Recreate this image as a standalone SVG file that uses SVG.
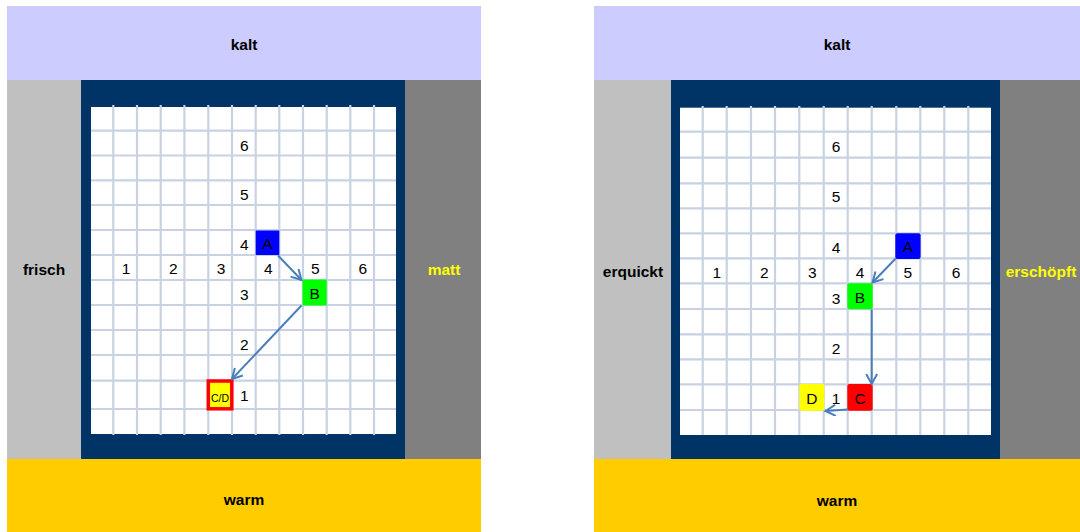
<svg xmlns="http://www.w3.org/2000/svg" width="1080" height="532" viewBox="0 0 1080 532">
<style>
.band{font-family:"Liberation Sans",Arial,sans-serif;font-weight:bold;font-size:15.5px;text-anchor:middle;dominant-baseline:central}
.num{font-family:"Liberation Sans",Arial,sans-serif;font-size:15.5px;fill:#000;text-anchor:middle;dominant-baseline:central}
.grid line{stroke:#C9D2E3;stroke-width:2.2}
.conn{stroke:#4A7EBB;stroke-width:2;fill:none;marker-end:url(#arr)}
</style>
<defs>
<marker id="arr" markerUnits="userSpaceOnUse" markerWidth="14" markerHeight="14" refX="11" refY="6" orient="auto">
<path d="M1,0.5 L11,6 L1,11.5" fill="none" stroke="#4A7EBB" stroke-width="2"/>
</marker>
</defs>
<rect width="1080" height="532" fill="#fff"/>

<!-- LEFT PANEL -->
<g id="left-panel">
<rect x="7" y="6" width="474" height="74" fill="#CCCCFF"/>
<rect x="7" y="80" width="74" height="379" fill="#C0C0C0"/>
<rect x="405" y="80" width="76" height="379" fill="#808080"/>
<rect x="7" y="459" width="474" height="73" fill="#FFCC00"/>
<rect x="81" y="80" width="324" height="379" fill="#003366"/>
<rect x="91" y="107" width="305" height="327" fill="#fff"/>
<text class="band" x="244" y="44" fill="#000">kalt</text>
<text class="band" x="244" y="499" fill="#000">warm</text>
<text class="band" x="44" y="269" fill="#000">frisch</text>
<text class="band" x="444" y="269" fill="#FFFF00">matt</text>
<g class="grid">
<line x1="113.3" y1="105" x2="113.3" y2="435"/>
<line x1="137" y1="105" x2="137" y2="435"/>
<line x1="160.7" y1="105" x2="160.7" y2="435"/>
<line x1="184.4" y1="105" x2="184.4" y2="435"/>
<line x1="208.3" y1="105" x2="208.3" y2="435"/>
<line x1="232" y1="105" x2="232" y2="435"/>
<line x1="255.7" y1="105" x2="255.7" y2="435"/>
<line x1="279.3" y1="105" x2="279.3" y2="435"/>
<line x1="303" y1="105" x2="303" y2="435"/>
<line x1="326.7" y1="105" x2="326.7" y2="435"/>
<line x1="350.3" y1="105" x2="350.3" y2="435"/>
<line x1="374" y1="105" x2="374" y2="435"/>
<line x1="91" y1="130.7" x2="396" y2="130.7"/>
<line x1="91" y1="155.5" x2="396" y2="155.5"/>
<line x1="91" y1="180.3" x2="396" y2="180.3"/>
<line x1="91" y1="205" x2="396" y2="205"/>
<line x1="91" y1="230" x2="396" y2="230"/>
<line x1="91" y1="255" x2="396" y2="255"/>
<line x1="91" y1="280" x2="396" y2="280"/>
<line x1="91" y1="305" x2="396" y2="305"/>
<line x1="91" y1="330" x2="396" y2="330"/>
<line x1="91" y1="355" x2="396" y2="355"/>
<line x1="91" y1="380.7" x2="396" y2="380.7"/>
<line x1="91" y1="409" x2="396" y2="409"/>
</g>
<text class="num" x="126" y="268">1</text>
<text class="num" x="173.3" y="268">2</text>
<text class="num" x="221" y="268">3</text>
<text class="num" x="268.3" y="268">4</text>
<text class="num" x="315.3" y="268">5</text>
<text class="num" x="362.7" y="268">6</text>
<text class="num" x="244.3" y="145">6</text>
<text class="num" x="244.3" y="194.5">5</text>
<text class="num" x="244.3" y="244">4</text>
<text class="num" x="244.3" y="294">3</text>
<text class="num" x="244.3" y="344">2</text>
<text class="num" x="244.3" y="395.5">1</text>
</g>

<g id="L-A">
<rect x="255.7" y="230.5" width="23.6" height="24.5" fill="#0000FF"/>
<text class="num" x="267.5" y="243">A</text>
</g>
<g id="L-B">
<rect x="302.5" y="279.5" width="24.2" height="26" fill="#00FF00"/>
<text class="num" x="314.6" y="293">B</text>
</g>
<g id="L-CD">
<rect x="208.3" y="381" width="23.5" height="27.8" fill="#FFFF00" stroke="#FF0000" stroke-width="3.5"/>
<text class="num" x="220" y="398" style="font-size:10.5px">C/D</text>
</g>

<!-- RIGHT PANEL -->
<g id="right-panel">
<rect x="594" y="6" width="486" height="74" fill="#CCCCFF"/>
<rect x="594" y="80" width="77" height="379" fill="#C0C0C0"/>
<rect x="1000" y="80" width="80" height="379" fill="#808080"/>
<rect x="594" y="459" width="486" height="73" fill="#FFCC00"/>
<rect x="671" y="80" width="329" height="379" fill="#003366"/>
<rect x="680" y="107.7" width="311" height="327.3" fill="#fff"/>
<text class="band" x="837" y="44" fill="#000">kalt</text>
<text class="band" x="837" y="500" fill="#000">warm</text>
<text class="band" x="633" y="271" fill="#000">erquickt</text>
<text class="band" x="1041" y="271" fill="#FFFF00">erschöpft</text>
<g class="grid">
<line x1="702.7" y1="106" x2="702.7" y2="435"/>
<line x1="726.7" y1="106" x2="726.7" y2="435"/>
<line x1="751" y1="106" x2="751" y2="435"/>
<line x1="775" y1="106" x2="775" y2="435"/>
<line x1="799.3" y1="106" x2="799.3" y2="435"/>
<line x1="823.7" y1="106" x2="823.7" y2="435"/>
<line x1="847.7" y1="106" x2="847.7" y2="435"/>
<line x1="871.7" y1="106" x2="871.7" y2="435"/>
<line x1="896.3" y1="106" x2="896.3" y2="435"/>
<line x1="920.3" y1="106" x2="920.3" y2="435"/>
<line x1="944.3" y1="106" x2="944.3" y2="435"/>
<line x1="968.3" y1="106" x2="968.3" y2="435"/>
<line x1="680" y1="131.7" x2="991" y2="131.7"/>
<line x1="680" y1="157.7" x2="991" y2="157.7"/>
<line x1="680" y1="183.3" x2="991" y2="183.3"/>
<line x1="680" y1="208.3" x2="991" y2="208.3"/>
<line x1="680" y1="233.3" x2="991" y2="233.3"/>
<line x1="680" y1="258.3" x2="991" y2="258.3"/>
<line x1="680" y1="283.3" x2="991" y2="283.3"/>
<line x1="680" y1="309" x2="991" y2="309"/>
<line x1="680" y1="334.3" x2="991" y2="334.3"/>
<line x1="680" y1="359.3" x2="991" y2="359.3"/>
<line x1="680" y1="384.3" x2="991" y2="384.3"/>
<line x1="680" y1="410" x2="991" y2="410"/>
</g>
<text class="num" x="716.7" y="272">1</text>
<text class="num" x="764.3" y="272">2</text>
<text class="num" x="812.3" y="272">3</text>
<text class="num" x="860" y="272">4</text>
<text class="num" x="907.7" y="272">5</text>
<text class="num" x="956" y="272">6</text>
<text class="num" x="836" y="146.5">6</text>
<text class="num" x="836" y="196.5">5</text>
<text class="num" x="836" y="247.5">4</text>
<text class="num" x="836" y="298">3</text>
<text class="num" x="836" y="348">2</text>
<text class="num" x="836" y="398.5">1</text>
</g>

<g id="R-A">
<rect x="895.3" y="233.3" width="25.3" height="25.7" rx="2" fill="#0000FF"/>
<text class="num" x="908" y="246.5">A</text>
</g>
<g id="R-B">
<rect x="847.3" y="283.3" width="25.4" height="26" rx="2" fill="#00FF00"/>
<text class="num" x="860" y="297">B</text>
</g>
<g id="R-C">
<rect x="847.3" y="384" width="25.4" height="26.7" rx="2" fill="#FF0000"/>
<text class="num" x="860" y="398">C</text>
</g>
<g id="R-D">
<rect x="799.3" y="384" width="25" height="26.7" rx="2" fill="#FFFF00"/>
<text class="num" x="811.8" y="398">D</text>
</g>

<g id="connectors">
<line class="conn" x1="278" y1="255.5" x2="301.5" y2="280"/>
<line class="conn" x1="301.5" y1="305.5" x2="232" y2="379"/>
<line class="conn" x1="895.7" y1="258.5" x2="872.5" y2="282.5"/>
<line class="conn" x1="871.7" y1="309.5" x2="871.7" y2="384"/>
<line class="conn" x1="848" y1="409.5" x2="825.5" y2="411"/>
</g>
</svg>
